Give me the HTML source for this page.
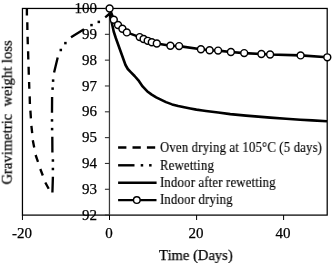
<!DOCTYPE html><html><head><meta charset="utf-8"><style>
html,body{margin:0;padding:0;background:#fff;width:332px;height:263px;overflow:hidden}
body{position:relative;font-family:"Liberation Serif",serif;color:#000}
.t{position:absolute;white-space:pre;line-height:1;will-change:transform;-webkit-text-stroke:0.25px #000}
.yl{font-size:15px;text-align:right;width:40px}
.xl{font-size:15px;text-align:center;width:40px}
.lg{font-size:14px;transform-origin:0 0;transform:scaleX(0.91);letter-spacing:0.2px;-webkit-text-stroke:0.15px #000}
</style></head><body>
<svg width="332" height="263" viewBox="0 0 332 263" style="position:absolute;left:0;top:0">
<rect x="22.45" y="8.45" width="304.75" height="206.65" fill="none" stroke="#000" stroke-width="1.25"/>
<line x1="109.45" y1="8.5" x2="109.45" y2="215.1" stroke="#3a3a3a" stroke-width="1.25"/>
<line x1="104.9" y1="8.5" x2="109.5" y2="8.5" stroke="#333" stroke-width="1.1"/>
<line x1="104.9" y1="34.33" x2="109.5" y2="34.33" stroke="#333" stroke-width="1.1"/>
<line x1="104.9" y1="60.15" x2="109.5" y2="60.15" stroke="#333" stroke-width="1.1"/>
<line x1="104.9" y1="85.97" x2="109.5" y2="85.97" stroke="#333" stroke-width="1.1"/>
<line x1="104.9" y1="111.8" x2="109.5" y2="111.8" stroke="#333" stroke-width="1.1"/>
<line x1="104.9" y1="137.62" x2="109.5" y2="137.62" stroke="#333" stroke-width="1.1"/>
<line x1="104.9" y1="163.45" x2="109.5" y2="163.45" stroke="#333" stroke-width="1.1"/>
<line x1="104.9" y1="189.28" x2="109.5" y2="189.28" stroke="#333" stroke-width="1.1"/>
<line x1="104.9" y1="215.1" x2="109.5" y2="215.1" stroke="#333" stroke-width="1.1"/>
<line x1="22.45" y1="215" x2="22.45" y2="220" stroke="#000" stroke-width="1"/>
<line x1="109.5" y1="215" x2="109.5" y2="220" stroke="#000" stroke-width="1"/>
<line x1="196.6" y1="215" x2="196.6" y2="220" stroke="#000" stroke-width="1"/>
<line x1="283.6" y1="215" x2="283.6" y2="220" stroke="#000" stroke-width="1"/>
<path d="M26.9,8.5L26.9,15.5M27.3,22.3L27.4,29.9M27.6,36.7L27.8,44.3M28.1,51.2L28.3,59.5M28.6,66.7L28.8,74.8M29.1,82L29.3,88.7M29.7,96.4L29.9,104M30.4,110.7L30.9,118.4M31.4,125.8L32.2,133.1M32.8,140.3L34.2,147.4M35.6,155L38,161.8M40.3,169L42.8,175.5M45.3,182.5L48.7,188.7M52.4,192.5L52.9,176.7M52.4,152.6L52.3,136.8M52.0,112.7L52.1,96.9M54.1,72.6L57.7,57.6M71,37.3L84,29.3M105.2,17.3L109.8,13.5" fill="none" stroke="#000" stroke-width="2.35"/>
<rect x="51.65" y="167.75" width="2.5" height="2.5" fill="#000"/>
<rect x="51.65" y="159.25" width="2.5" height="2.5" fill="#000"/>
<rect x="50.85" y="127.85" width="2.5" height="2.5" fill="#000"/>
<rect x="50.75" y="119.15" width="2.5" height="2.5" fill="#000"/>
<rect x="51.35" y="87.35" width="2.5" height="2.5" fill="#000"/>
<rect x="51.85" y="79.35" width="2.5" height="2.5" fill="#000"/>
<rect x="59.55" y="48.75" width="2.5" height="2.5" fill="#000"/>
<rect x="64.15" y="41.85" width="2.5" height="2.5" fill="#000"/>
<rect x="90.25" y="23.85" width="2.5" height="2.5" fill="#000"/>
<rect x="97.55" y="20.65" width="2.5" height="2.5" fill="#000"/>
<polyline points="109.7,13.5 110.5,17.0 111.2,20.0 113.7,31.5 115.8,38.0 116.7,40.5 121.1,52.7 125.5,65.0 127.8,69.0 131.0,72.3 134.6,76.0 138.4,80.3 142.6,86.4 147.1,91.2 151.7,94.6 156.2,97.3 160.8,99.6 166.0,102.1 172.1,104.4 178.2,106.0 184.2,107.3 190.3,108.5 196.4,109.6 202.5,110.5 206.0,111.0 218.2,112.5 230.3,114.1 246.0,115.6 258.2,116.6 270.3,117.6 286.0,118.8 300.2,119.7 312.3,120.4 327.0,121.3" fill="none" stroke="#000" stroke-width="2.6" stroke-linejoin="round"/>
<polyline points="109.6,8.5 113.8,19.7 118.0,25.0 122.4,28.8 126.8,32.4 139.7,37.1 143.6,39.0 147.7,40.8 151.8,42.2 156.8,43.5 170.4,45.7 179.1,46.1 200.9,49.2 209.6,50.2 218.1,50.6 230.9,52.0 244.2,53.1 261.4,54.0 270.1,54.5 300.6,55.4 327.3,57.3" fill="none" stroke="#000" stroke-width="2.6" stroke-linejoin="round"/>
<circle cx="109.6" cy="8.5" r="3.45" fill="#fff" stroke="#000" stroke-width="1.45"/>
<circle cx="113.8" cy="19.7" r="3.45" fill="#fff" stroke="#000" stroke-width="1.45"/>
<circle cx="118" cy="25" r="3.45" fill="#fff" stroke="#000" stroke-width="1.45"/>
<circle cx="122.4" cy="28.8" r="3.45" fill="#fff" stroke="#000" stroke-width="1.45"/>
<circle cx="126.8" cy="32.4" r="3.45" fill="#fff" stroke="#000" stroke-width="1.45"/>
<circle cx="139.7" cy="37.1" r="3.45" fill="#fff" stroke="#000" stroke-width="1.45"/>
<circle cx="143.6" cy="39" r="3.45" fill="#fff" stroke="#000" stroke-width="1.45"/>
<circle cx="147.7" cy="40.8" r="3.45" fill="#fff" stroke="#000" stroke-width="1.45"/>
<circle cx="151.8" cy="42.2" r="3.45" fill="#fff" stroke="#000" stroke-width="1.45"/>
<circle cx="156.8" cy="43.5" r="3.45" fill="#fff" stroke="#000" stroke-width="1.45"/>
<circle cx="170.4" cy="45.7" r="3.45" fill="#fff" stroke="#000" stroke-width="1.45"/>
<circle cx="179.1" cy="46.1" r="3.45" fill="#fff" stroke="#000" stroke-width="1.45"/>
<circle cx="200.9" cy="49.2" r="3.45" fill="#fff" stroke="#000" stroke-width="1.45"/>
<circle cx="209.6" cy="50.2" r="3.45" fill="#fff" stroke="#000" stroke-width="1.45"/>
<circle cx="218.1" cy="50.6" r="3.45" fill="#fff" stroke="#000" stroke-width="1.45"/>
<circle cx="230.9" cy="52" r="3.45" fill="#fff" stroke="#000" stroke-width="1.45"/>
<circle cx="244.2" cy="53.1" r="3.45" fill="#fff" stroke="#000" stroke-width="1.45"/>
<circle cx="261.4" cy="54" r="3.45" fill="#fff" stroke="#000" stroke-width="1.45"/>
<circle cx="270.1" cy="54.5" r="3.45" fill="#fff" stroke="#000" stroke-width="1.45"/>
<circle cx="300.6" cy="55.4" r="3.45" fill="#fff" stroke="#000" stroke-width="1.45"/>
<circle cx="327.3" cy="57.3" r="3.45" fill="#fff" stroke="#000" stroke-width="1.45"/>
<line x1="118.1" y1="147.5" x2="155.6" y2="147.5" stroke="#000" stroke-width="2.4" stroke-dasharray="8.3 6.1"/>
<line x1="118.1" y1="165.3" x2="134.5" y2="165.3" stroke="#000" stroke-width="2.4"/><rect x="140.7" y="164.05" width="2.5" height="2.5"/><rect x="149.1" y="164.05" width="2.5" height="2.5"/>
<line x1="118.1" y1="182.7" x2="156.6" y2="182.7" stroke="#000" stroke-width="2.4"/>
<line x1="118.1" y1="200.1" x2="156.5" y2="200.1" stroke="#000" stroke-width="2.4"/>
<circle cx="136.8" cy="200.1" r="3.3" fill="#fff" stroke="#000" stroke-width="1.4"/>
</svg>
<div class="t yl" style="left:56.8px;top:1.0px">100</div>
<div class="t yl" style="left:56.8px;top:26.8px">99</div>
<div class="t yl" style="left:56.8px;top:52.6px">98</div>
<div class="t yl" style="left:56.8px;top:78.5px">97</div>
<div class="t yl" style="left:56.8px;top:104.3px">96</div>
<div class="t yl" style="left:56.8px;top:130.1px">95</div>
<div class="t yl" style="left:56.8px;top:155.9px">94</div>
<div class="t yl" style="left:56.8px;top:181.8px">93</div>
<div class="t yl" style="left:56.8px;top:207.6px">92</div>
<div class="t xl" style="left:2.1px;top:226.3px">-20</div>
<div class="t xl" style="left:89.2px;top:226.3px">0</div>
<div class="t xl" style="left:176.3px;top:226.3px">20</div>
<div class="t xl" style="left:263.3px;top:226.3px">40</div>
<div class="t lg" style="left:159.5px;top:141.3px">Oven drying at 105°C (5 days)</div>
<div class="t lg" style="left:159.5px;top:158.9px">Rewetting</div>
<div class="t lg" style="left:159.5px;top:176.2px">Indoor after rewetting</div>
<div class="t lg" style="left:159.5px;top:193.4px">Indoor drying</div>
<div class="t" style="font-size:15px;left:159px;top:247.5px;transform-origin:0 0;transform:scaleX(0.975)">Time (Days)</div>
<div class="t" style="font-size:15px;left:0;top:0;transform-origin:0 0;transform:translate(-0.3px,184.5px) rotate(-90deg) scaleX(0.975)">Gravimetric  weight loss</div>
</body></html>
